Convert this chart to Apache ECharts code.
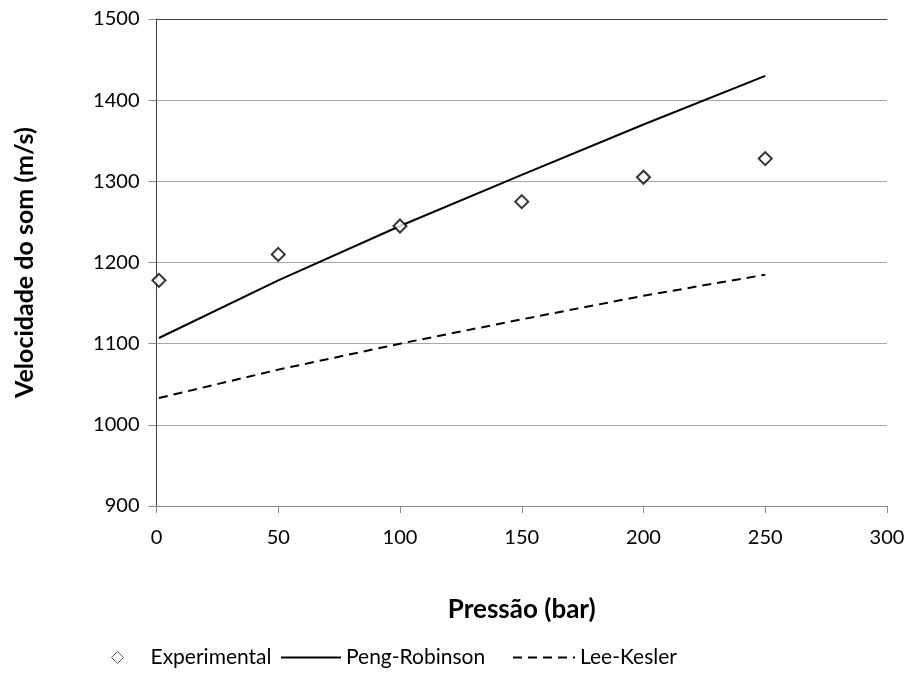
<!DOCTYPE html>
<html>
<head>
<meta charset="utf-8">
<script src="https://cdn.jsdelivr.net/npm/echarts@6/dist/echarts.min.js"></script>
<style>
  html, body { margin: 0; padding: 0; background: #fff; }
  #chart { width: 912px; height: 691px; }
</style>
</head>
<body>
<div id="chart"></div>
<script>
// Pressure (bar) at which each speed of sound was measured / computed
const pressure = [1, 50, 100, 150, 200, 250];
// Speed of sound (m/s)
const experimental = [1178, 1210, 1245, 1275, 1305, 1328];
const pengRobinson = [1107, 1178, 1245, 1308, 1370, 1430];
const leeKesler = [1033, 1068, 1100, 1130, 1159, 1185];
// Axis ranges: [min, max, step]
const xRange = [0, 300, 50];
const yRange = [900, 1500, 100];

const FONT = 'Lato';
const pairs = (ys) => pressure.map((p, i) => [p, ys[i]]);
const plain = (v) => String(v);

const chart = echarts.init(document.getElementById('chart'), null, { renderer: 'canvas' });

const legendText = { fontFamily: FONT, fontSize: 21, color: '#000' };
const hiddenSymbol = { color: 'rgba(0,0,0,0)', borderColor: 'rgba(0,0,0,0)', borderWidth: 0 };

chart.setOption({
  animation: false,
  backgroundColor: '#fff',
  grid: { left: 156.5, right: 25, top: 19, bottom: 185, containLabel: false },
  xAxis: [
    {
      type: 'value',
      min: xRange[0], max: xRange[1], interval: xRange[2],
      name: 'Pressão (bar)',
      nameLocation: 'middle',
      nameGap: 91,
      nameTextStyle: { fontFamily: FONT, fontSize: 26, fontWeight: 'bold', color: '#000' },
      axisLine: { lineStyle: { color: '#8c8c8c', width: 1 } },
      axisTick: { show: true, length: 7, lineStyle: { color: '#8c8c8c' } },
      axisLabel: { fontFamily: FONT, fontSize: 20, color: '#000', margin: 22, formatter: plain },
      splitLine: { show: false }
    },
    {
      type: 'value', position: 'top',
      min: xRange[0], max: xRange[1],
      axisLine: { show: true, lineStyle: { color: '#404040', width: 1 } },
      axisTick: { show: false }, axisLabel: { show: false }, splitLine: { show: false }
    }
  ],
  yAxis: [
    {
      type: 'value',
      min: yRange[0], max: yRange[1], interval: yRange[2],
      name: 'Velocidade do som (m/s)',
      nameLocation: 'middle',
      nameGap: 119,
      nameTextStyle: { fontFamily: FONT, fontSize: 25, fontWeight: 'bold', color: '#000' },
      axisLine: { show: true, lineStyle: { color: '#8c8c8c', width: 1 } },
      axisTick: { show: true, length: 8, lineStyle: { color: '#8c8c8c' } },
      axisLabel: { fontFamily: FONT, fontSize: 20, color: '#000', margin: 17, formatter: plain },
      splitLine: { show: true, lineStyle: { color: '#a6a6a6', width: 1 } }
    },
    {
      type: 'value', position: 'right',
      min: yRange[0], max: yRange[1],
      axisLine: { show: true, lineStyle: { color: '#404040', width: 1 } },
      axisTick: { show: false }, axisLabel: { show: false }, splitLine: { show: false }
    }
  ],
  legend: [
    {
      data: [{ name: 'Experimental', icon: 'diamond', itemStyle: { color: '#fff', borderColor: '#333', borderWidth: 1 } }],
      left: 111, top: 647, padding: 0, itemWidth: 12, itemHeight: 12,
      textStyle: Object.assign({ padding: [0, 0, 0, 22] }, legendText),
      selectedMode: false
    },
    {
      data: [{ name: 'Peng-Robinson', itemStyle: hiddenSymbol }],
      left: 280, top: 647, padding: 0, itemWidth: 60, itemHeight: 14,
      textStyle: legendText,
      selectedMode: false
    },
    {
      data: [{ name: 'Lee-Kesler', itemStyle: hiddenSymbol }],
      left: 512, top: 647, padding: 0, itemWidth: 62, itemHeight: 14,
      textStyle: legendText,
      selectedMode: false
    }
  ],
  series: [
    {
      name: 'Experimental',
      type: 'scatter',
      data: pairs(experimental),
      symbol: 'diamond',
      symbolSize: 13,
      itemStyle: { color: '#fff', borderColor: '#000', borderWidth: 2 },
      z: 5
    },
    {
      name: 'Peng-Robinson',
      type: 'line',
      data: pairs(pengRobinson),
      symbol: 'none',
      lineStyle: { color: '#000', width: 2 },
      itemStyle: { color: '#000' }
    },
    {
      name: 'Lee-Kesler',
      type: 'line',
      data: pairs(leeKesler),
      symbol: 'none',
      lineStyle: { color: '#000', width: 2, type: [9, 6] },
      itemStyle: { color: '#000' }
    }
  ]
});
</script>
</body>
</html>
